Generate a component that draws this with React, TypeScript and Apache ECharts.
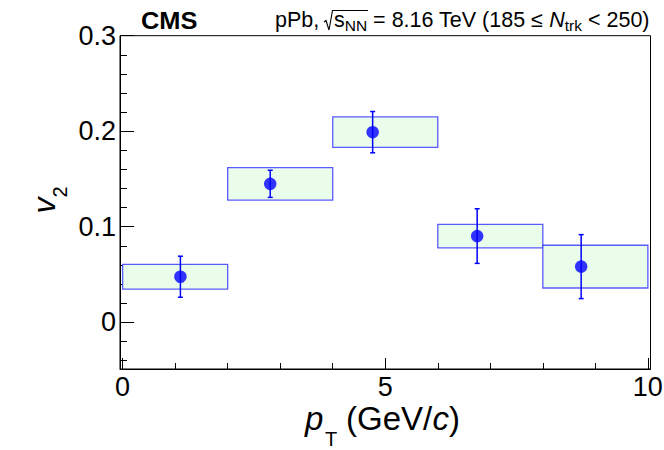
import React, { useEffect, useRef } from "react";
import * as echarts from "echarts";

// pT bins (GeV/c) and measured v2
const binLo = [0, 2, 4, 6, 8];
const binHi = [2, 4, 6, 8, 10];
const ptMean = [1.1, 2.81, 4.76, 6.75, 8.73];
const v2Values = [0.0476, 0.1449, 0.199, 0.0902, 0.0582];
const statErr = [0.0215, 0.0142, 0.0216, 0.0286, 0.0335];
const sysErr = [0.013, 0.017, 0.016, 0.0123, 0.0224];

// axes
const xRange = [-0.05, 10.05];
const yRange = [-0.049, 0.3];
const xMajorTicks = [0, 5, 10];
const xMinorTicks = [1, 2, 3, 4, 6, 7, 8, 9];
const yMajorTicks = [0, 0.1, 0.2, 0.3];
const yMinorTicks = [-0.04, -0.02, 0.02, 0.04, 0.06, 0.08, 0.12, 0.14, 0.16, 0.18, 0.22, 0.24, 0.26, 0.28];

const FF = "'Liberation Sans', Arial, Helvetica, sans-serif";

export default function App() {
  const ref = useRef<HTMLDivElement>(null);

  useEffect(() => {
    document.body.style.margin = "0";
    if (!ref.current) return;
    const chart = echarts.init(ref.current, undefined, { renderer: "svg" });

    const boxData = binLo.map((lo, i) => [lo, binHi[i], v2Values[i] - sysErr[i], v2Values[i] + sysErr[i]]);
    const errData = ptMean.map((x, i) => [x, v2Values[i] - statErr[i], v2Values[i] + statErr[i]]);
    const pointData = ptMean.map((x, i) => [x, v2Values[i]]);

    const minorX = {
      type: "value",
      min: xRange[0],
      max: xRange[1],
      position: "bottom",
      axisLine: { show: false, onZero: false },
      axisTick: { show: true, inside: true, length: 6, customValues: xMinorTicks, lineStyle: { color: "#000", width: 1 } },
      axisLabel: { show: false },
      splitLine: { show: false },
    };
    const minorY = {
      type: "value",
      min: yRange[0],
      max: yRange[1],
      position: "left",
      axisLine: { show: false, onZero: false },
      axisTick: { show: true, inside: true, length: 7, customValues: yMinorTicks, lineStyle: { color: "#000", width: 1 } },
      axisLabel: { show: false },
      splitLine: { show: false },
    };

    const subRich = (size: number, pad: number, lh: number) => ({
      fontFamily: FF,
      fontSize: size,
      lineHeight: lh,
      padding: [pad, 0, 0, 0],
      fill: "#000",
      color: "#000",
    });
    const normRich = (size: number, lh: number, italic = false) => ({
      fontFamily: FF,
      fontSize: size,
      lineHeight: lh,
      fontStyle: italic ? "italic" : "normal",
      fill: "#000",
      color: "#000",
    });
    const plain = (x: number, y: number, text: string, size: number, italic = false) => ({
      type: "text",
      x,
      y,
      style: {
        text,
        fontFamily: FF,
        fontSize: size,
        fontStyle: italic ? "italic" : "normal",
        fill: "#000",
        align: "left",
        verticalAlign: "middle",
      },
    });

    // header layout (px)
    const hdrY = 19.5;
    const hdrX = 275;
    const restX = 334;

    const option: any = {
      animation: false,
      backgroundColor: "#fff",
      grid: {
        left: 120,
        right: 13.5,
        top: 35.7,
        bottom: 81,
        show: true,
        borderColor: "#000",
        borderWidth: 1,
        containLabel: false,
        outerBoundsMode: "none",
      },
      xAxis: [
        {
          type: "value",
          min: xRange[0],
          max: xRange[1],
          position: "bottom",
          axisLine: { show: true, onZero: false, lineStyle: { color: "#000", width: 1 } },
          axisTick: { show: true, inside: true, length: 11, customValues: xMajorTicks, lineStyle: { color: "#000", width: 1 } },
          axisLabel: { show: true, customValues: xMajorTicks, fontSize: 27, color: "#000", fontFamily: FF, margin: 4 },
          splitLine: { show: false },
        },
        minorX,
      ],
      yAxis: [
        {
          type: "value",
          min: yRange[0],
          max: yRange[1],
          position: "left",
          axisLine: { show: true, onZero: false, lineStyle: { color: "#000", width: 1 } },
          axisTick: { show: true, inside: true, length: 14, customValues: yMajorTicks, lineStyle: { color: "#000", width: 1 } },
          axisLabel: {
            show: true,
            customValues: yMajorTicks,
            fontSize: 27,
            color: "#000",
            fontFamily: FF,
            margin: 4,
            formatter: (v: number) => (v === 0 ? "0" : String(v)),
          },
          splitLine: { show: false },
        },
        minorY,
      ],
      series: [
        {
          type: "custom",
          name: "sys",
          xAxisIndex: 0,
          yAxisIndex: 0,
          data: boxData,
          z: 2,
          renderItem: (params: any, api: any) => {
            const p0 = api.coord([api.value(0), api.value(2)]);
            const p1 = api.coord([api.value(1), api.value(3)]);
            return {
              type: "rect",
              shape: { x: p0[0], y: p1[1], width: p1[0] - p0[0], height: p0[1] - p1[1] },
              style: { fill: "#eafcea", stroke: "rgba(50,50,255,0.8)", lineWidth: 1.3 },
            };
          },
        },
        {
          type: "custom",
          name: "stat",
          xAxisIndex: 0,
          yAxisIndex: 0,
          data: errData,
          z: 3,
          renderItem: (params: any, api: any) => {
            const lo = api.coord([api.value(0), api.value(1)]);
            const hi = api.coord([api.value(0), api.value(2)]);
            const st = { stroke: "#0000ff", lineWidth: 1.5 };
            return {
              type: "group",
              children: [
                { type: "line", shape: { x1: lo[0], y1: lo[1], x2: hi[0], y2: hi[1] }, style: st },
                { type: "line", shape: { x1: lo[0] - 2.5, y1: lo[1], x2: lo[0] + 2.5, y2: lo[1] }, style: st },
                { type: "line", shape: { x1: hi[0] - 2.5, y1: hi[1], x2: hi[0] + 2.5, y2: hi[1] }, style: st },
              ],
            };
          },
        },
        {
          type: "scatter",
          name: "v2",
          xAxisIndex: 0,
          yAxisIndex: 0,
          data: pointData,
          symbol: "circle",
          symbolSize: 12.5,
          itemStyle: { color: "#0000ff" },
          z: 4,
        },
      ],
      graphic: [
        {
          type: "text",
          x: 141,
          y: 20.5,
          scaleX: 1.06,
          style: {
            text: "CMS",
            fontFamily: FF,
            fontSize: 24,
            fontWeight: "bold",
            fill: "#000",
            align: "left",
            verticalAlign: "middle",
          },
        },
        plain(hdrX, hdrY, "pPb,", 21.5),
        {
          type: "polyline",
          shape: { points: [[324, 22], [326, 20.5], [329, 30], [332.5, 10.5], [368, 10.5]] },
          style: { stroke: "#000", lineWidth: 1.1, fill: null },
        },
        {
          type: "text",
          x: restX,
          y: hdrY,
          style: {
            text: "{n|s}{sub|NN}{n| = 8.16 TeV (185 ≤ }{i|N}{sub|trk}{n| < 250)}",
            fontFamily: FF,
            fontSize: 21.5,
            fill: "#000",
            align: "left",
            verticalAlign: "middle",
            rich: {
              n: normRich(21.5, 26),
              i: normRich(21.5, 26, true),
              sub: subRich(15.5, 12, 26),
            },
          },
        },
        // x-axis title: p_T (GeV/c)
        plain(305, 418, "p", 33, true),
        plain(325, 439, "T", 20),
        plain(346, 418, "(GeV/", 33),
        plain(432.5, 418, "c", 33, true),
        plain(449, 418, ")", 33),
        // y-axis title: v_2
        {
          type: "text",
          x: 44,
          y: 200,
          rotation: Math.PI / 2,
          style: {
            text: "{i|v}{sub|2}",
            fontFamily: FF,
            fontSize: 32,
            fill: "#000",
            align: "center",
            verticalAlign: "middle",
            rich: {
              i: normRich(32, 36, true),
              sub: subRich(20, 32, 36),
            },
          },
        },
      ],
    };

    chart.setOption(option);
    return () => chart.dispose();
  }, []);

  return (
    <div
      ref={ref}
      style={{ position: "fixed", left: 0, top: 0, width: 664, height: 450, background: "#fff" }}
    />
  );
}
